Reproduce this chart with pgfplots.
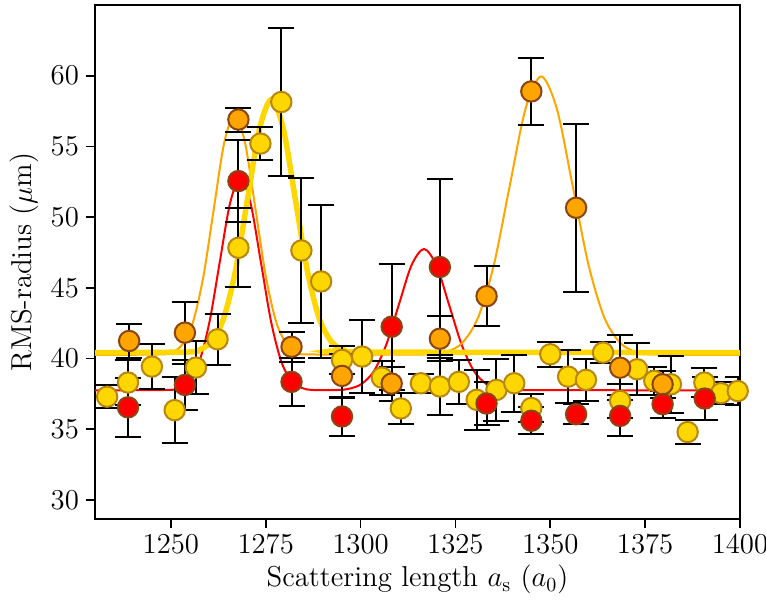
\documentclass[border=0pt]{standalone}
\usepackage{pgfplots}
\pgfplotsset{compat=1.18}
\definecolor{sbrown}{RGB}{139,69,19}
\definecolor{dgold}{RGB}{184,134,11}
\definecolor{goldc}{RGB}{255,215,0}
\definecolor{orng}{RGB}{255,165,0}
\pgfplotsset{ebar/.style={only marks, mark=*, mark size=5.1pt,
  error bars/y dir=both, error bars/y explicit,
  error bars/error bar style={black, line width=1pt},
  error bars/error mark options={black, line width=1pt, mark size=6.5pt, rotate=90}}}
\begin{document}
\begin{tikzpicture}
\path[use as bounding box] (-47.5pt,-41.5pt) rectangle (335.5pt,259.5pt);
\begin{axis}[
 at={(0pt,0pt)}, anchor=south west,
 scale only axis, width=322.5pt, height=257pt,
 xmin=1230, xmax=1400, ymin=28.65, ymax=65,
 xtick={1250,1275,...,1400}, ytick={30,35,...,60},
 tick align=outside, xtick pos=bottom, ytick pos=left,
 major tick length=4.5pt,
 every tick/.style={black, line width=0.8pt},
 axis line style={line width=0.8pt},
 x tick label style={/pgf/number format/set thousands separator={}},
 tick label style={font=\fontsize{14.4}{17}\selectfont},
 label style={font=\fontsize{14.4}{17}\selectfont},
 xlabel={Scattering length $a_{\mathrm{s}}$ ($a_0$)},
 ylabel={RMS-radius ($\mu$m)},
 ylabel style={yshift=-1pt},
 xlabel style={yshift=1pt},
]
% fit curves
\addplot[red, line width=1pt, smooth] coordinates {
(1230,37.75) (1249.4,37.78) (1252.1,37.92) (1254.8,38.41) (1257.5,39.78) (1260.2,42.62)
(1262.9,46.85) (1265.6,50.99) (1268.3,52.75) (1271.0,50.99) (1273.7,46.85) (1276.4,42.62)
(1279.1,39.78) (1281.8,38.41) (1284.5,37.92) (1287.2,37.78) (1293.6,37.77) (1296.9,37.86)
(1300.2,38.19) (1303.5,39.10) (1306.8,41.00) (1310.1,43.82) (1313.4,46.58) (1316.7,47.75)
(1320.0,46.58) (1323.3,43.82) (1326.6,41.00) (1329.9,39.10) (1333.2,38.19) (1336.5,37.86)
(1339.8,37.77) (1400,37.75)};
\addplot[orng, line width=1pt, smooth] coordinates {
(1230,40.25) (1247.55,40.29) (1250.3,40.44) (1253.05,41.00) (1255.8,42.55) (1258.55,45.77)
(1261.3,50.56) (1264.05,55.25) (1266.8,57.25) (1269.55,55.25) (1272.3,50.56) (1275.05,45.77)
(1277.8,42.55) (1280.55,41.00) (1283.3,40.44) (1286.05,40.29) (1318.55,40.29) (1322.7,40.47)
(1326.85,41.12) (1331.0,42.92) (1335.15,46.65) (1339.3,52.20) (1343.45,57.64) (1347.6,59.95)
(1351.75,57.64) (1355.9,52.20) (1360.05,46.65) (1364.2,42.92) (1368.35,41.12) (1372.5,40.47)
(1376.65,40.29) (1400,40.25)};
\addplot[goldc, line width=2.75pt, smooth] coordinates {
(1230,40.42) (1254.45,40.46) (1257.6,40.62) (1260.75,41.21) (1263.9,42.84) (1267.05,46.23)
(1270.2,51.28) (1273.35,56.22) (1276.5,58.32) (1279.65,56.22) (1282.8,51.28) (1285.95,46.23)
(1289.1,42.84) (1292.25,41.21) (1295.4,40.62) (1298.55,40.46) (1400,40.42)};
% data
\addplot[ebar, mark options={fill=goldc, draw=dgold, line width=1pt}] coordinates {
(1233.2,37.30) +- (0,0.8) (1238.7,38.30) +- (0,1.6) (1245.0,39.43) +- (0,1.6)
(1251.0,36.35) +- (0,2.35) (1256.6,39.36) +- (0,1.9) (1262.3,41.36) +- (0,1.8)
(1267.8,47.83) +- (0,2.8) (1273.6,55.20) +- (0,1.15) (1279.1,58.14) +- (0,5.25)
(1284.4,47.64) +- (0,5.15) (1289.6,45.45) +- (0,5.4) (1295.1,39.90) +- (0,1.0)
(1300.4,40.14) +- (0,2.6) (1305.6,38.65) +- (0,1.2) (1310.6,36.47) +- (0,1.1)
(1315.9,38.25) +- (0,0.68) (1320.9,38.02) +- (0,2.0) (1325.9,38.35) +- (0,1.55)
(1330.6,37.08) +- (0,2.1) (1335.8,37.78) +- (0,2.2) (1340.5,38.25) +- (0,2.0)
(1345.0,36.50) +- (0,1.0) (1350.0,40.30) +- (0,0.9) (1354.7,38.72) +- (0,1.85)
(1359.4,38.49) +- (0,1.5) (1363.9,40.42) +- (0,0.75) (1368.4,37.00) +- (0,1.2)
(1372.9,39.24) +- (0,1.85) (1377.4,38.42) +- (0,1.0) (1381.8,38.18) +- (0,2.0)
(1386.2,34.80) +- (0,0.85) (1390.6,38.30) +- (0,1.0) (1395.0,37.55) +- (0,0.8)
(1399.4,37.70) +- (0,1.0)};
\addplot[ebar, mark options={fill=orng, draw=sbrown, line width=1pt}] coordinates {
(1239.0,41.24) +- (0,1.2) (1253.7,41.83) +- (0,2.2) (1267.8,56.90) +- (0,0.85)
(1281.8,40.83) +- (0,1.05) (1295.1,38.77) +- (0,1.55) (1308.2,38.23) +- (0,1.2)
(1320.9,41.40) +- (0,1.6) (1333.2,44.41) +- (0,2.1) (1345.0,58.89) +- (0,2.35)
(1356.8,50.66) +- (0,5.95) (1368.4,39.35) +- (0,2.3) (1379.6,38.18) +- (0,0.95)};
\addplot[ebar, mark options={fill=red, draw=sbrown, line width=1pt}] coordinates {
(1238.7,36.55) +- (0,2.1) (1253.7,38.13) +- (0,1.75) (1267.8,52.55) +- (0,2.9)
(1281.8,38.35) +- (0,1.7) (1295.1,35.90) +- (0,1.4) (1308.2,42.25) +- (0,4.45)
(1320.9,46.47) +- (0,6.2) (1333.2,36.82) +- (0,1.55) (1345.0,35.60) +- (0,0.95)
(1356.8,36.06) +- (0,0.7) (1368.4,35.94) +- (0,1.45) (1379.6,36.77) +- (0,0.95)
(1390.7,37.17) +- (0,1.5)};
\end{axis}
\end{tikzpicture}
\end{document}
